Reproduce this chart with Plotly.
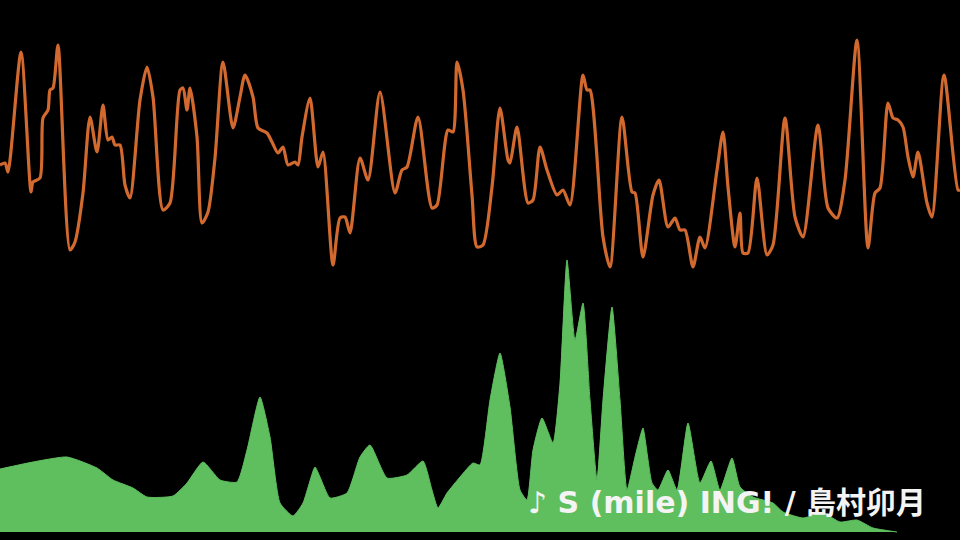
import plotly.graph_objects as go

# Waveform samples: time position (px scale 0-960) and amplitude (relative units)
wave_t = [0, 5, 8, 21, 31, 33, 40, 43, 48, 50, 53, 58, 70, 75, 83, 90, 97, 103, 108, 112, 115, 120,
          125, 130, 140, 147, 153, 163, 170, 180, 183, 187, 190, 197, 202, 208, 215, 223, 233, 240,
          245, 253, 258, 267, 272, 278, 283, 288, 295, 298, 302, 310, 318,
          323, 333, 340, 345, 350, 360, 368, 380, 395, 402, 407, 418, 432, 437, 448, 453, 457, 463,
          472, 477, 483, 492, 500, 508, 510, 517, 528, 533, 540, 547, 557, 563, 570, 583, 587, 590,
          603, 610, 622, 632, 635,
          643, 653, 659, 668, 675, 680, 685, 693, 700, 705, 717, 723, 728, 735, 740, 743, 748, 757,
          767, 773, 785, 795, 803, 818, 828, 837, 845, 857, 868, 875, 880, 888, 893, 898, 903, 908,
          913, 918, 927, 932, 944, 958, 960]
wave_v = [-10, -8, -17, 103, -37, -27, -23, 37, 45, 65, 67, 110, -95, -87, -38, 38, 3, 50, 15, 18, 10, 10,
          -30, -43, 55, 88, 58, -55, -48, 65, 67, 45, 67, 18, -68, -57, -3, 93, 27, 58,
          80, 58, 27, 22, 13, 2, 8, -10, -7, -10, 18, 57, -12,
          3, -110, -63, -62, -78, -3, -25, 63, -38, -15, -12, 38, -53, -50, 25, 23, 93, 65,
          -40, -92, -90, -32, 47, -5, -8, 28, -48, -45, 8, -15, -40, -35, -50, 80, 65, 65,
          -82, -112, 38, -37, -38,
          -102, -40, -25, -72, -63, -75, -75, -112, -82, -93, -15, 23, -32, -92, -58, -98, -98, -23,
          -100, -90, 37, -62, -82, 30, -53, -63, -25, 115, -93, -38, -33, 52, 37, 35, 28, -2,
          -22, 3, -48, -62, 80, -35, -35]

# Spectrum samples: frequency position (px scale 0-960) and level
spec_f = [0, 33, 67, 97, 113, 133, 147, 173, 187, 203, 220, 237, 247, 260, 270, 280, 293, 303, 315,
          320, 330, 347, 360, 370, 387, 407, 423, 432, 438, 447, 460, 473, 480, 490, 500, 510, 520,
          527, 533, 542, 553, 560, 567, 575, 583, 590, 597, 603, 612, 620, 627, 635,
          640, 643, 652, 658, 668, 677, 688, 700, 711, 720, 732, 740, 753, 773, 783, 803, 823, 840,
          857, 873, 897]
spec_v = [63, 70, 75, 64, 52, 44, 35, 36, 49, 70, 52, 50, 82, 135, 95, 29, 16, 29, 65,
          55, 34, 39, 75, 87, 54, 57, 71, 42, 24, 39, 55, 69, 67, 132, 179, 125, 42,
          32, 82, 114, 89, 149, 272, 192, 229, 132, 52, 132, 225, 132, 42, 75,
          95, 104, 49, 42, 62, 42, 109, 49, 71, 42, 74, 45, 35, 29, 20, 14, 19, 10,
          12, 4, 0]

title_text = "♪ S (mile) ING! / 島村卯月"

fig = go.Figure()
fig.add_trace(go.Scatter(
    x=wave_t, y=wave_v, mode="lines",
    line=dict(color="#D2692F", width=3.2, shape="spline", smoothing=0.7),
    yaxis="y", hoverinfo="skip"))
fig.add_trace(go.Scatter(
    x=spec_f, y=spec_v, mode="lines", fill="tozeroy",
    fillcolor="#5FBF5F", line=dict(color="#5FBF5F", width=1, shape="spline", smoothing=0.5),
    yaxis="y2", hoverinfo="skip"))

fig.add_annotation(
    text=f"<b>{title_text}</b>", xref="paper", yref="paper",
    x=928 / 960, y=1 - 502 / 540, xanchor="right", yanchor="middle",
    showarrow=False,
    font=dict(family="DejaVu Sans, Noto Sans CJK JP, sans-serif", size=30, color="#F4F4F4"))

fig.update_layout(
    width=960, height=540,
    margin=dict(l=0, r=0, t=0, b=0),
    paper_bgcolor="black", plot_bgcolor="black",
    showlegend=False,
    xaxis=dict(range=[0, 960], visible=False, fixedrange=True),
    yaxis=dict(range=[-385, 155], visible=False, fixedrange=True),
    yaxis2=dict(range=[-8, 532], visible=False, overlaying="y", fixedrange=True),
)

fig.write_html(
    "out.html",
    config={"displayModeBar": False},
    post_script="document.body.style.margin='0';document.body.style.background='black';"
                "document.body.style.overflow='hidden';",
)
